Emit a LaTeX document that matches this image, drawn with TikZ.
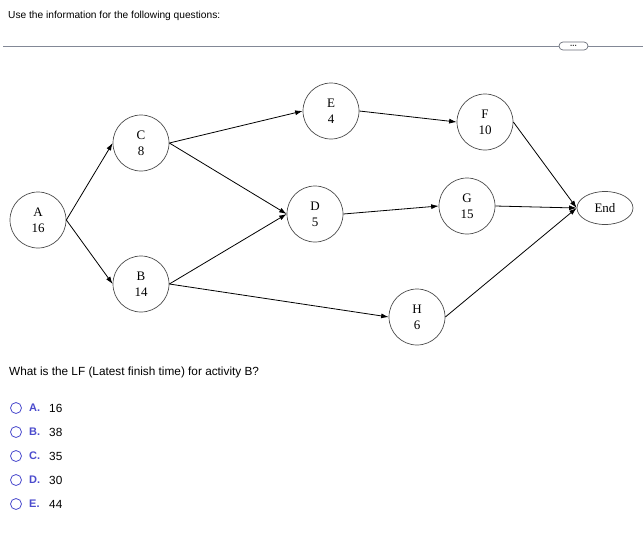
\documentclass[tikz,border=0pt]{standalone}
\usepackage{fontspec}
\setmainfont{Liberation Serif}
\newfontfamily\uifont{Liberation Sans}
\usetikzlibrary{shapes,arrows,arrows.meta,positioning}
\definecolor{radioblue}{RGB}{75,75,205}
\definecolor{rulegray}{RGB}{130,136,150}
\tikzstyle{activity} = [circle, draw = black!70, line width = 0.7pt, minimum size = 56pt, inner sep = 0pt, align = center, font = \fontsize{13}{16}\selectfont]
\tikzstyle{finish} = [ellipse, draw = black!70, line width = 0.7pt, minimum width = 56pt, minimum height = 33pt, inner sep = 0pt, font = \fontsize{13}{16}\selectfont]
\tikzstyle{line2} = [draw, line width = 0.8pt, -{Latex[length = 7.5pt, width = 5pt]}]
\tikzstyle{prompt} = [anchor = west, inner sep = 0pt, font = \uifont\fontsize{10.2}{12}\selectfont]
\tikzstyle{answer} = [anchor = west, inner sep = 0pt, font = \uifont\fontsize{11.8}{13}\selectfont]
\tikzstyle{radio} = [circle, draw = radioblue, line width = 0.8pt, minimum size = 11pt, inner sep = 0pt]
\tikzstyle{letter} = [anchor = west, inner sep = 0pt, text = radioblue, font = \uifont\bfseries\fontsize{11}{13}\selectfont]
\tikzstyle{pill} = [rectangle, draw = rulegray!80!black, line width = 0.7pt, rounded corners = 4pt, minimum width = 29pt, minimum height = 8pt, inner sep = 0pt, text = black!80, font = \uifont\bfseries\fontsize{8}{8}\selectfont]
\begin{document}
\begin{tikzpicture}[x = 1pt, y = -1pt]
			\useasboundingbox (0, 0) rectangle (643, 539);
			% Header
			\node [prompt] (intro) at (8, 16) {Use the information for the following questions:};
			\coordinate (ruleL) at (3, 46);
			\coordinate (ruleR) at (643, 46);
			\node [pill] (more) at (573.5, 46) {...};
			\draw [rulegray, line width = 0.8pt] (ruleL) -- (more.west);
			\draw [rulegray, line width = 0.8pt] (more.east) -- (ruleR);
			% Place nodes
			\node [activity] (A) at (38, 220) {A\\16};
			\node [activity] (C) at (141, 143) {C\\8};
			\node [activity] (B) at (141, 284) {B\\14};
			\node [activity] (E) at (331, 111) {E\\4};
			\node [activity] (D) at (315, 214) {D\\5};
			\node [activity] (F) at (485, 122) {F\\10};
			\node [activity] (G) at (467, 206) {G\\15};
			\node [activity] (H) at (417, 317) {H\\6};
			\node [finish] (end) at (605, 208) {End};
			% Draw edges
			\path [line2] (A.east) -- (C.west);
			\path [line2] (A.east) -- (B.west);
			\path [line2] (C.east) -- (E.west);
			\path [line2] (C.east) -- (D.west);
			\path [line2] (B.east) -- (D.west);
			\path [line2] (B.east) -- (H.west);
			\path [line2] (E.east) -- (F.west);
			\path [line2] (D.east) -- (G.west);
			\path [line2] (F.east) -- (end.west);
			\path [line2] (G.east) -- (end.west);
			\path [line2] (H.east) -- (end.west);
			% Question
			\node [answer] (question) at (9, 372) {What is the LF (Latest finish time) for activity B?};
			\node [radio] (ra) at (16, 408) {};
			\node [radio] (rb) at (16, 432) {};
			\node [radio] (rc) at (16, 456) {};
			\node [radio] (rd) at (16, 480) {};
			\node [radio] (re) at (16, 504) {};
			\node [letter] (la) at (29, 408) {A.};
			\node [letter] (lb) at (29, 432) {B.};
			\node [letter] (lc) at (29, 456) {C.};
			\node [letter] (ld) at (29, 480) {D.};
			\node [letter] (le) at (29, 504) {E.};
			\node [answer] (va) at (49, 408) {16};
			\node [answer] (vb) at (49, 432) {38};
			\node [answer] (vc) at (49, 456) {35};
			\node [answer] (vd) at (49, 480) {30};
			\node [answer] (ve) at (49, 504) {44};
		\end{tikzpicture}
\end{document}
